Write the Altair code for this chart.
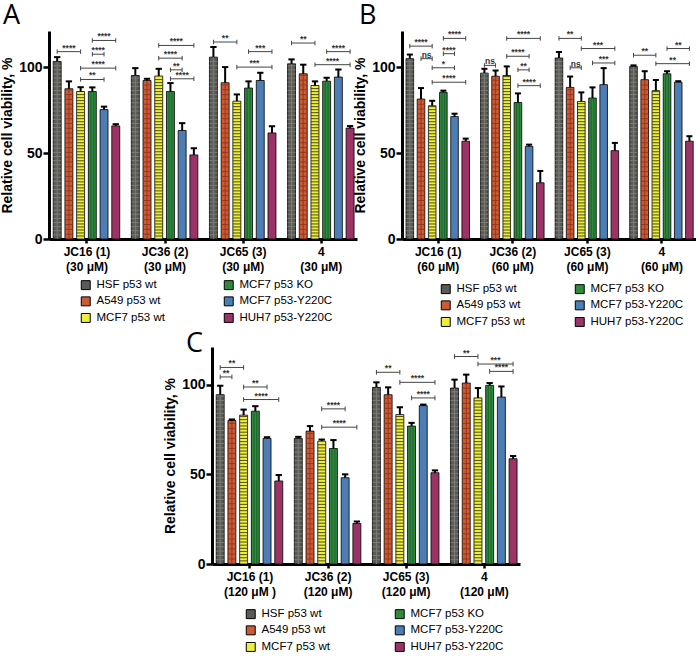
import altair as alt
import pandas as pd

# ---- shared definitions -------------------------------------------------
CELL_LINES = ["HSF p53 wt", "A549 p53 wt", "MCF7 p53 wt",
              "MCF7 p53 KO", "MCF7 p53-Y220C", "HUH7 p53-Y220C"]
BAR_FILL = ["#5a5a56", "#cc5a34", "#eeee3e", "#2f8a3e", "#4c7eb5", "#9c3366"]

COMPOUNDS = ["JC16 (1)", "JC36 (2)", "JC65 (3)", "4"]
GAP = 6.67          # distance between compound groups, in bar steps
HALF_BAR = 0.34     # half bar width, in bar steps
X_DOMAIN = [-3.2, 23.1]
Y_DOMAIN = [0, 121]

FONT = "Liberation Sans"

# ---- panel A: 30 uM -----------------------------------------------------
A_DOSE = ["(30 μM)", "(30 μM)", "(30 μM)", "(30 μM)"]
A_MEAN = [[103.3, 87.4, 85.8, 85.8, 75.3, 65.8],
          [95.1, 92.2, 94.8, 85.8, 63.1, 48.9],
          [105.8, 90.9, 80.2, 87.8, 92.2, 61.7],
          [101.9, 96.1, 89.3, 91.8, 94.2, 64.5]]
A_SEM = [[2.5, 4.3, 2.5, 2.4, 1.7, 1.0],
         [4.3, 1.0, 4.2, 4.9, 4.3, 3.9],
         [5.9, 9.1, 3.9, 3.9, 4.5, 3.9],
         [2.6, 5.3, 2.4, 2.0, 4.4, 1.2]]
# (group, from bar, to bar, bracket height, label)
A_SIG = [(0, 0, 2, 109.0, "****"), (0, 3, 5, 115.5, "****"), (0, 3, 4, 107.5, "****"),
         (0, 2, 5, 99.4, "****"), (0, 2, 4, 92.8, "**"),
         (1, 2, 5, 112.6, "****"), (1, 2, 4, 105.2, "****"), (1, 3, 4, 98.4, "**"),
         (1, 3, 5, 93.2, "****"),
         (2, 0, 2, 114.6, "**"), (2, 3, 5, 109.0, "***"), (2, 2, 5, 100.0, "***"),
         (3, 0, 2, 114.0, "**"), (3, 3, 5, 109.0, "****"), (3, 2, 5, 101.4, "****")]

# ---- panel B: 60 uM -----------------------------------------------------
B_DOSE = ["(60 μM)", "(60 μM)", "(60 μM)", "(60 μM)"]
B_MEAN = [[104.9, 81.4, 77.5, 85.3, 71.2, 56.9],
          [96.5, 94.7, 95.1, 79.4, 53.9, 32.7],
          [105.3, 88.2, 80.0, 82.0, 89.8, 51.4],
          [100.4, 92.7, 86.3, 96.1, 91.2, 56.9]]
B_SEM = [[2.4, 6.4, 2.9, 1.0, 1.7, 1.5],
         [2.5, 3.3, 5.3, 5.3, 1.0, 6.9],
         [3.5, 6.3, 5.3, 6.2, 9.6, 4.5],
         [0.6, 4.9, 6.2, 1.5, 0.6, 2.9]]
B_SIG = [(0, 0, 2, 112.2, "****"), (0, 3, 5, 116.7, "****"), (0, 1, 2, 104.9, "ns"),
         (0, 3, 4, 107.8, "****"), (0, 2, 4, 99.6, "*"), (0, 2, 5, 91.2, "****"),
         (1, 0, 1, 101.0, "ns"), (1, 2, 5, 116.7, "****"), (1, 2, 4, 106.3, "****"),
         (1, 3, 4, 98.4, "**"), (1, 3, 5, 89.2, "****"),
         (2, 0, 2, 116.7, "**"), (2, 2, 5, 110.8, "***"), (2, 1, 2, 99.6, "ns"),
         (2, 3, 5, 102.4, "***"),
         (3, 0, 2, 106.9, "**"), (3, 3, 5, 110.8, "**"), (3, 2, 5, 102.0, "**")]

# ---- panel C: 120 uM ----------------------------------------------------
C_DOSE = ["(120 μM )", "(120 μM)", "(120 μM)", "(120 μM)"]
C_MEAN = [[94.4, 80.0, 83.0, 85.2, 70.0, 46.3],
          [70.0, 74.1, 68.5, 64.4, 48.1, 22.6],
          [98.5, 94.4, 83.3, 76.9, 88.3, 50.9],
          [98.1, 100.9, 92.6, 99.6, 93.1, 58.7]]
C_SEM = [[5.0, 0.6, 3.1, 2.8, 0.7, 3.3],
         [0.9, 2.8, 0.9, 4.7, 1.9, 1.1],
         [2.8, 4.1, 4.1, 1.8, 0.6, 1.3],
         [4.7, 4.7, 5.5, 1.3, 5.9, 1.5]]
C_SIG = [(0, 0, 2, 109.6, "**"), (0, 0, 1, 104.3, "**"), (0, 2, 4, 98.7, "**"),
         (0, 2, 5, 91.7, "****"),
         (1, 2, 4, 86.5, "****"), (1, 2, 5, 76.3, "****"),
         (2, 0, 2, 106.9, "**"), (2, 2, 5, 101.3, "****"), (2, 3, 5, 92.6, "****"),
         (3, 0, 2, 115.7, "**"), (3, 2, 5, 111.5, "***"), (3, 3, 5, 107.4, "****")]


def bar_table(means, sems):
    rows = []
    for g, (mrow, srow) in enumerate(zip(means, sems)):
        for b, (m, s) in enumerate(zip(mrow, srow)):
            pos = g * GAP + b - 2.5
            rows.append({"g": g, "b": b, "cell": CELL_LINES[b], "mean": m,
                         "top": m + s, "pos": pos, "x0": pos - HALF_BAR,
                         "x1": pos + HALF_BAR, "base": 0})
    return pd.DataFrame(rows)


def sig_table(sig):
    rows = []
    for g, b1, b2, h, txt in sig:
        xa = g * GAP + b1 - 2.5
        xb = g * GAP + b2 - 2.5
        rows.append({"xa": xa, "xb": xb, "xm": (xa + xb) / 2, "h": h,
                     "lo": h - 1.3, "hi": h + 1.3, "label": txt})
    return pd.DataFrame(rows)


def panel(letter, means, sems, sig, doses, width, height,
          legend_x, legend_y, col_pad, letter_x, letter_y):
    bars = bar_table(means, sems)
    brackets = sig_table(sig)
    labels = [f"{c}|{d}" for c, d in zip(COMPOUNDS, doses)]
    label_expr = ("split([" + ",".join(f"'{t}'" for t in labels) +
                  f"][round(datum.value / {GAP})], '|')")

    xs = alt.Scale(domain=X_DOMAIN, nice=False, zero=False)
    ys = alt.Scale(domain=Y_DOMAIN, nice=False)

    x_axis = alt.Axis(values=[0, GAP, 2 * GAP, 3 * GAP], labelExpr=label_expr,
                      title=None, grid=False, domainWidth=3, domainColor="black",
                      tickColor="black", tickWidth=2.5, tickSize=4,
                      labelFont=FONT, labelFontSize=12, labelFontWeight="bold",
                      labelColor="black", labelLineHeight=15, labelPadding=3,
                      labelOverlap=False, labelFlush=False)
    y_axis = alt.Axis(values=[0, 50, 100], title="Relative cell viability, %",
                      grid=False, domainWidth=3, domainColor="black",
                      tickColor="black", tickWidth=2.5, tickSize=6,
                      labelFont=FONT, labelFontSize=14, labelFontWeight="bold",
                      labelColor="black", labelPadding=1,
                      titleFont=FONT, titleFontSize=14, titleFontWeight="bold",
                      titleColor="black", titlePadding=4)

    def X(field):
        return alt.X(field, type="quantitative", scale=xs, axis=x_axis)

    def Y(field):
        return alt.Y(field, type="quantitative", scale=ys, axis=y_axis)

    color = alt.Color(
        "cell:N",
        scale=alt.Scale(domain=CELL_LINES, range=BAR_FILL),
        legend=alt.Legend(title=None, orient="none", legendX=legend_x,
                          legendY=legend_y, columns=2, direction="vertical",
                          symbolType="square", symbolSize=80,
                          symbolStrokeColor="black", symbolStrokeWidth=1,
                          labelFont=FONT, labelFontSize=11.5, labelColor="black",
                          labelOffset=5, rowPadding=2.6, columnPadding=col_pad,
                          labelLimit=0))

    base = alt.Chart(bars)

    bar_layer = base.mark_bar(stroke="black", strokeWidth=0.8).encode(
        x=X("x0"), x2="x1:Q", y=Y("mean"), y2="base:Q", color=color,
    )

    # horizontal hatch lines inside bars (grid for HSF / A549, stripes for MCF7 wt)
    hatch_h = base.transform_filter("datum.b <= 2").transform_calculate(
        step="datum.b == 2 ? 1.75 : (datum.b == 0 ? 2.4 : 2.8)"
    ).transform_calculate(
        lines="sequence(datum.step, datum.mean - 0.4, datum.step)"
    ).transform_flatten(["lines"]).mark_rule(strokeWidth=0.9).encode(
        x=X("x0"), x2="x1:Q", y=Y("lines"),
        stroke=alt.Stroke("b:N", scale=alt.Scale(domain=[0, 1, 2],
                                                 range=["#80807b", "#94341a", "#3c3c14"]),
                          legend=None),
    )

    # vertical hatch lines (HSF / A549 grid, MCF7 KO stripes)
    hatch_v = base.transform_filter("datum.b <= 1 || datum.b == 3").transform_calculate(
        offs="datum.b == 3 ? [-0.12, 0.12] : [0]"
    ).transform_flatten(["offs"]).transform_calculate(
        xv="datum.pos + datum.offs"
    ).mark_rule(strokeWidth=0.9).encode(
        x=X("xv"), y=Y("base"), y2="mean:Q",
        stroke=alt.Stroke("b:N", scale=alt.Scale(domain=[0, 1, 3],
                                                 range=["#80807b", "#94341a", "#1b5a27"]),
                          legend=None),
    )

    err_stem = base.mark_rule(color="black", strokeWidth=2).encode(
        x=X("pos"), y=Y("mean"), y2="top:Q",
    )
    err_cap = base.transform_calculate(
        c0="datum.pos - 0.27", c1="datum.pos + 0.27"
    ).mark_rule(color="black", strokeWidth=2).encode(
        x=X("c0"), x2="c1:Q", y=Y("top"),
    )

    sb = alt.Chart(brackets)
    br_line = sb.mark_rule(color="#444444", strokeWidth=1).encode(
        x=X("xa"), x2="xb:Q", y=Y("h"),
    )
    br_ends = sb.transform_fold(["xa", "xb"], as_=["end", "xe"]).mark_rule(
        color="#444444", strokeWidth=1).encode(
        x=X("xe"), y=Y("lo"), y2="hi:Q",
    )
    br_text = sb.mark_text(font=FONT, fontSize=8.5, fontWeight="bold",
                           color="#333333", baseline="alphabetic", dy=-1).encode(
        x=X("xm"), y=Y("h"), text="label:N",
    )

    tag = alt.Chart(pd.DataFrame({"t": [letter]})).mark_text(
        font="Open Sans", fontSize=27, align="left", baseline="alphabetic",
        color="black").encode(
        x=alt.value(letter_x), y=alt.value(letter_y), text="t:N")

    return alt.layer(bar_layer, hatch_h, hatch_v, err_stem, err_cap,
                     br_line, br_ends, br_text, tag).resolve_scale(
        stroke="independent").properties(width=width, height=height)


pa = panel("A", A_MEAN, A_SEM, A_SIG, A_DOSE, 308, 208, 31, 248, 57, -46, -7)
pb = panel("B", B_MEAN, B_SEM, B_SIG, B_DOSE, 294, 208, 38, 252, 48, -43, -7)
pc = panel("C", C_MEAN, C_SEM, C_SIG, C_DOSE, 308, 217, 33, 261, 63, -26, 5)

spacer = alt.Chart(pd.DataFrame({"v": [0]})).mark_point(opacity=0).encode(
    x=alt.value(0), y=alt.value(0)).properties(width=114, height=10)

top_row = alt.hconcat(pa, pb, spacing=-4).resolve_scale(color="independent")
bottom_row = alt.hconcat(spacer, pc, spacing=0).resolve_scale(color="independent")

chart = alt.vconcat(top_row, bottom_row, spacing=1).resolve_scale(
    color="independent").configure_view(stroke=None).properties(
    padding={"left": 0, "top": 2, "right": 0, "bottom": 0},
    background="white")

chart.save("out.html", embed_options={"renderer": "svg", "actions": False})
